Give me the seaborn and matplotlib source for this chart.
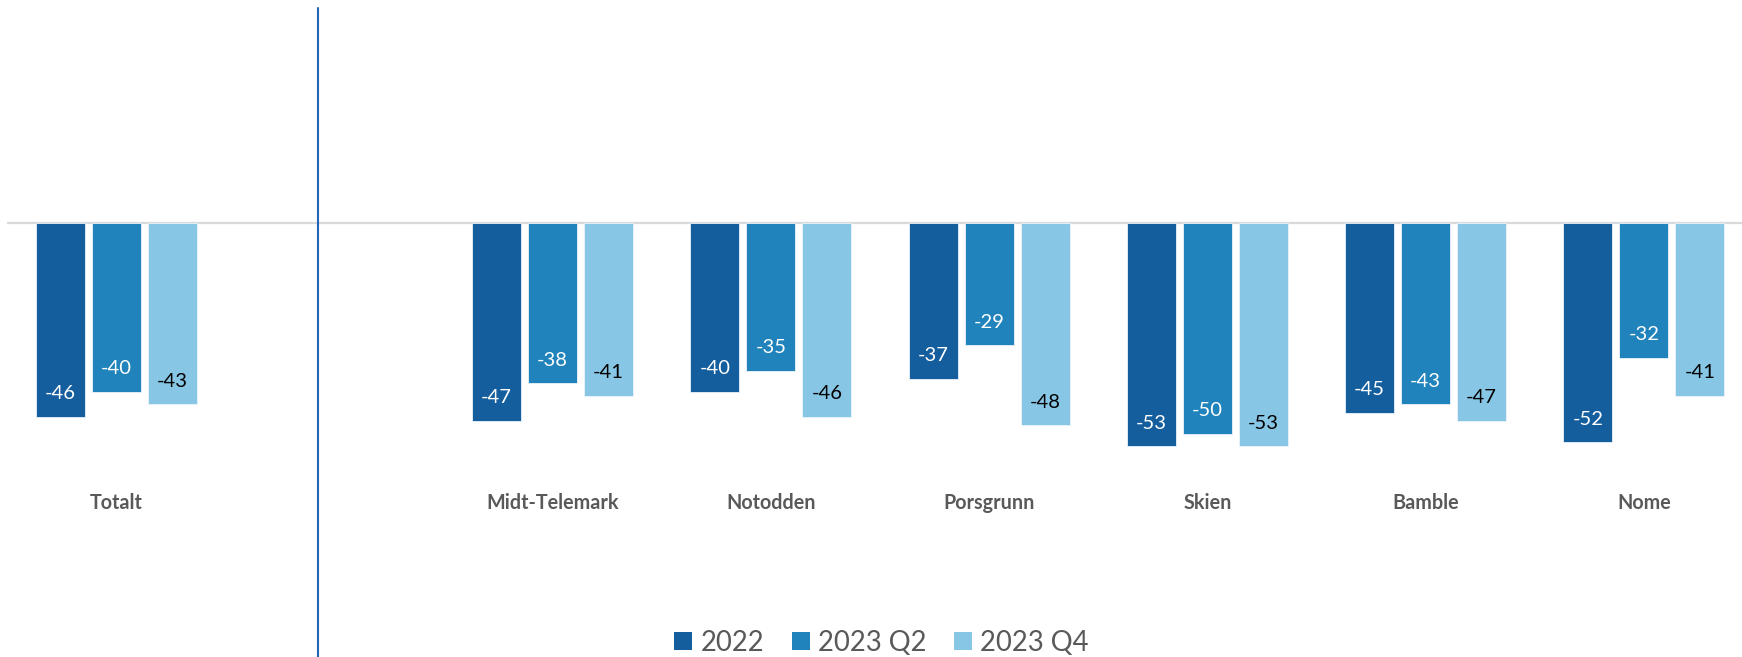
import matplotlib
matplotlib.use("Agg")
import matplotlib.pyplot as plt
import matplotlib.transforms as mtransforms
from matplotlib.lines import Line2D
from matplotlib.patches import Patch
import seaborn as sns
import pandas as pd

categories = ["Totalt", " ", "Midt-Telemark", "Notodden", "Porsgrunn", "Skien", "Bamble", "Nome"]
series = ["2022", "2023 Q2", "2023 Q4"]
v2022 = [-46, -47, -40, -37, -53, -45, -52]
v2023q2 = [-40, -38, -35, -29, -50, -43, -32]
v2023q4 = [-43, -41, -46, -48, -53, -47, -41]
data_cats = ["Totalt", "Midt-Telemark", "Notodden", "Porsgrunn", "Skien", "Bamble", "Nome"]

colors = ["#155E9E", "#2083BC", "#88C6E5"]
label_colors = ["white", "white", "black"]

rows = []
for s, vals in zip(series, [v2022, v2023q2, v2023q4]):
    for c, v in zip(data_cats, vals):
        rows.append({"kategori": c, "serie": s, "verdi": v})
df = pd.DataFrame(rows)

sns.set_theme(style="white")
plt.rcParams["font.family"] = ["Lato", "DejaVu Sans"]

W, H = 1742, 657
fig = plt.figure(figsize=(W / 100, H / 100), dpi=100)
ax = fig.add_axes([7 / W, 1 - 476 / H, (W - 7) / W, (476 - 8) / H])

sns.barplot(data=df, x="kategori", y="verdi", hue="serie", order=categories,
            hue_order=series, palette=colors, saturation=1, width=0.77, gap=0.125,
            edgecolor="#EAF3FA", linewidth=0.6, ax=ax, legend=False)

ax.set_xlim(-0.5, 7.45)
ax.set_ylim(-60, 51)
ax.axhline(0, color="#D9D9D9", lw=1.6, zorder=0)
for sp in ax.spines.values():
    sp.set_visible(False)
ax.set_yticks([])
ax.set_xlabel("")
ax.set_ylabel("")
ax.tick_params(axis="x", length=0, pad=12)
for t in ax.get_xticklabels():
    t.set_fontweight("bold")
    t.set_fontsize(14.2)
    t.set_color("#595959")

for cont, tc in zip(ax.containers, label_colors):
    for patch in cont.patches:
        h = patch.get_height()
        if pd.isna(h) or h == 0:
            continue
        x = patch.get_x() + patch.get_width() / 2
        ax.text(x, h + 5.5, f"{int(round(h))}", ha="center", va="center",
                color=tc, fontsize=14.5)

trans = mtransforms.blended_transform_factory(ax.transData, fig.transFigure)
fig.add_artist(Line2D([0.923, 0.923], [0, 1 - 8 / H], transform=trans,
                      color="#2366B5", lw=1.5))

handles = [Patch(facecolor=c, edgecolor="none") for c in colors]
leg = fig.legend(handles, series, loc="center", bbox_to_anchor=(0.506, 0.022),
                 ncol=3, frameon=False, fontsize=19.8, handlelength=0.66,
                 handleheight=0.66, handletextpad=0.3, columnspacing=1.0)
for t in leg.get_texts():
    t.set_color("#595959")

fig.savefig("out.png", dpi=100)
